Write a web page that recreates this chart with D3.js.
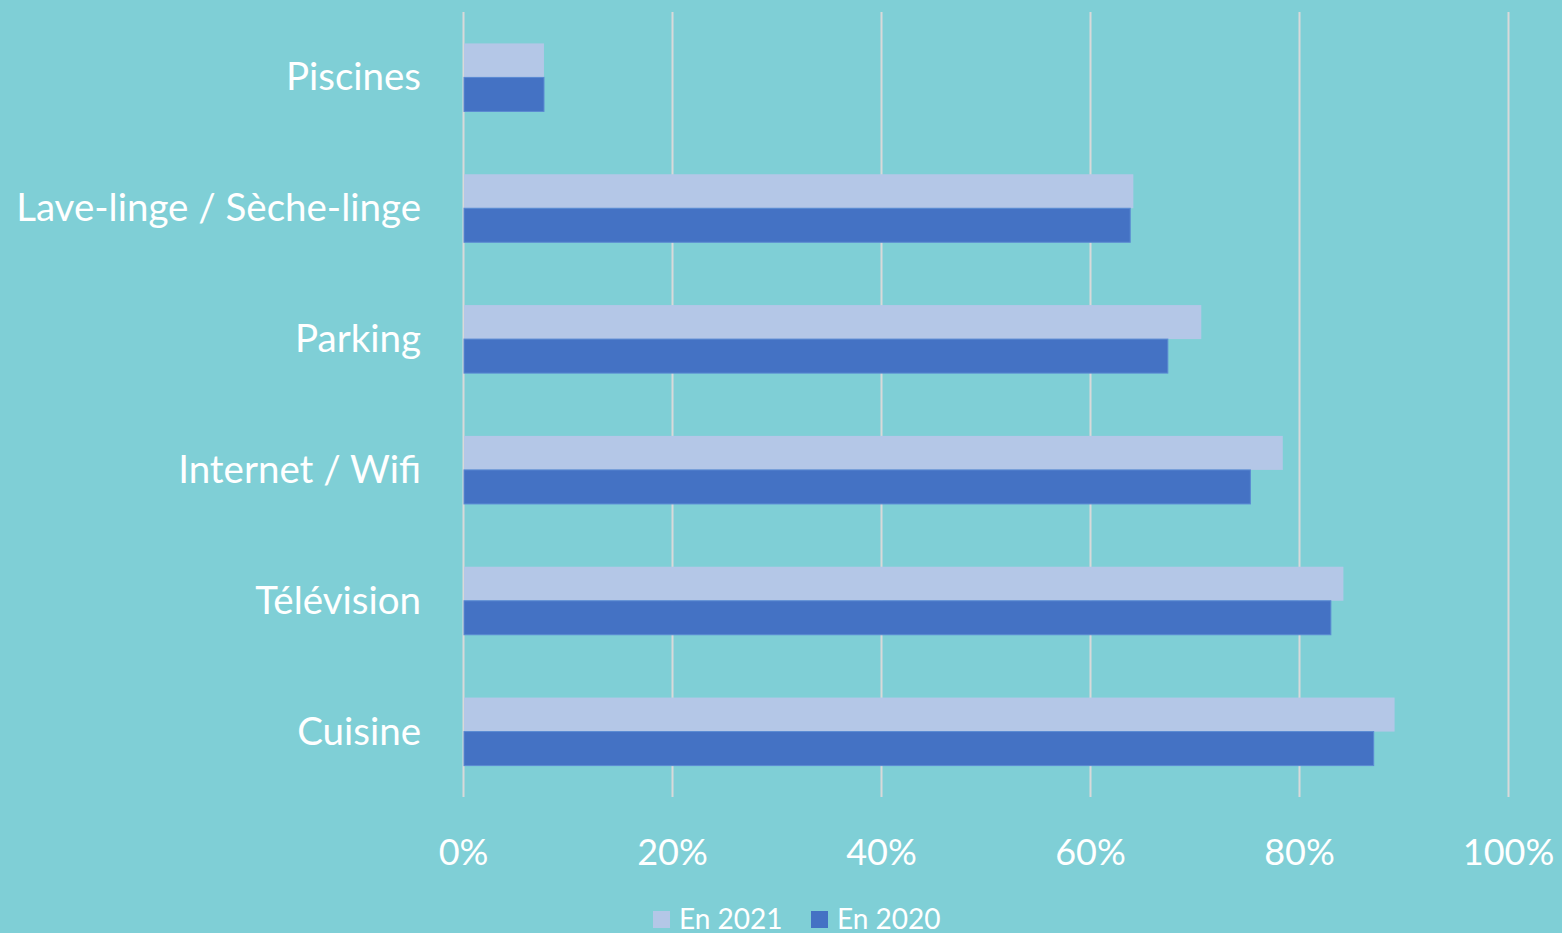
<!DOCTYPE html>
<meta charset="utf-8">
<body style="margin:0">
<script src="https://cdn.jsdelivr.net/npm/d3@7"></script>
<script>

var width = 1562,
  height = 933;

// data (share of accommodations, %)
var categories = ["Piscines", "Lave-linge / Sèche-linge", "Parking", "Internet / Wifi", "Télévision", "Cuisine"];
var series = ["En 2021", "En 2020"];
var values2021 = [7.7, 64.1, 70.6, 78.4, 84.2, 89.1];
var values2020 = [7.7, 63.8, 67.4, 75.3, 83.0, 87.1];
var ticks = [0, 20, 40, 60, 80, 100];

var colors = {"En 2021": "#B4C7E7", "En 2020": "#4472C4"};

var rows = categories.map(function(c, i) {
  return {cat: c, vals: [{s: "En 2021", v: values2021[i]}, {s: "En 2020", v: values2020[i]}]};
});

var svg = d3.select("body").append("svg")
  .attr("width", width)
  .attr("height", height)
  .style("display", "block")
  .style("font-family", "Lato, 'Open Sans', sans-serif");

svg.append("rect")
  .attr("width", width)
  .attr("height", height)
  .attr("fill", "#7FCFD6");

var x = d3.scaleLinear().domain([0, 100]).range([463.5, 1508.5]);

var y = d3.scaleBand()
  .domain(categories)
  .range([12, 797])
  .paddingInner(0.48)
  .paddingOuter(0.24);

var ySub = d3.scaleBand().domain(series).range([0, y.bandwidth()]);

// gridlines
svg.append("g").selectAll("line")
  .data(ticks)
  .enter().append("line")
  .attr("x1", d => x(d))
  .attr("x2", d => x(d))
  .attr("y1", 12)
  .attr("y2", 797)
  .attr("stroke", "#D9D9D9")
  .attr("stroke-width", 2);

// bars
var grp = svg.append("g").selectAll("g")
  .data(rows)
  .enter().append("g")
  .attr("transform", d => "translate(0," + y(d.cat) + ")");

grp.selectAll("rect")
  .data(d => d.vals)
  .enter().append("rect")
  .attr("x", x(0) + 0.5)
  .attr("y", d => ySub(d.s))
  .attr("width", d => x(d.v) - x(0) - 0.5)
  .attr("height", ySub.bandwidth())
  .attr("fill", d => colors[d.s])
  .attr("stroke", d => d.s == "En 2020" ? "#5B8AD3" : "none")
  .attr("stroke-width", 1);

// category labels
svg.append("g").selectAll("text")
  .data(categories)
  .enter().append("text")
  .attr("x", 421)
  .attr("y", d => y(d) + y.bandwidth() / 2 + 13)
  .attr("text-anchor", "end")
  .attr("fill", "#fff")
  .attr("font-size", 38.5)
  .text(d => d);

// x axis labels
svg.append("g").selectAll("text")
  .data(ticks)
  .enter().append("text")
  .attr("x", d => x(d))
  .attr("y", 865)
  .attr("text-anchor", "middle")
  .attr("fill", "#fff")
  .attr("font-size", 36)
  .text(d => d + "%");

// legend
var legend = svg.append("g").selectAll("g")
  .data(series)
  .enter().append("g")
  .attr("transform", (d, i) => "translate(" + (653 + i * 158) + ",911)");

legend.append("rect")
  .attr("width", 17)
  .attr("height", 17)
  .attr("fill", d => colors[d]);

legend.append("text")
  .attr("x", 26)
  .attr("y", 18)
  .attr("fill", "#fff")
  .attr("font-size", 28)
  .text(d => d);

</script>
</body>
</html>
